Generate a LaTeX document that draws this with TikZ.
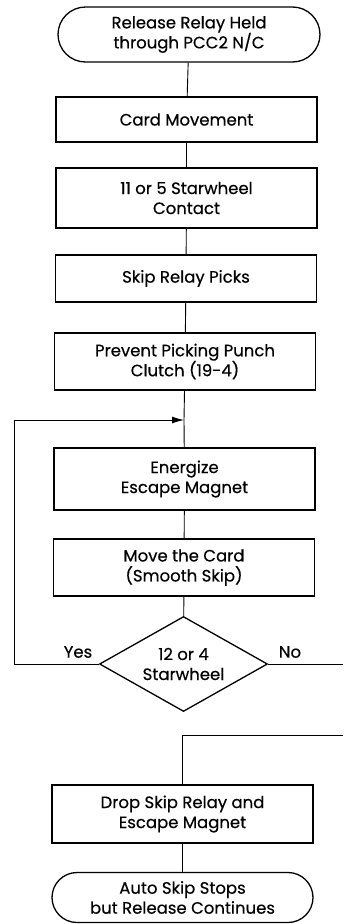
\documentclass[tikz,border=0pt]{standalone}
\usepackage{fontspec}
\setmainfont{Poppins}[UprightFeatures={FakeBold=0.4}]
\usetikzlibrary{shapes.misc,shapes.geometric,arrows.meta}
\begin{document}
\begin{tikzpicture}[x=1pt,y=-1pt,
  every node/.style={font=\fontsize{16.5}{20}\selectfont},
  procbox/.style={draw,line width=1.3pt,rectangle,minimum width=261pt,align=center,inner sep=0pt},
  termbox/.style={draw,line width=1.3pt,rounded rectangle,minimum width=262pt,align=center,inner sep=0pt},
  decbox/.style={draw,line width=1.3pt,diamond,minimum width=168pt,minimum height=95pt,align=center,inner sep=0pt,aspect=1.77},
  conn/.style={line width=0.9pt},
  lbl/.style={inner sep=0pt}]
\useasboundingbox (0,0) rectangle (343,924);
\node[termbox,minimum height=55pt] (start) at (189,34.5) {Release Relay Held\\through PCC2 N/C};
\node[procbox,minimum height=45pt] (b1) at (186.5,119.5) {Card Movement};
\node[procbox,minimum height=60pt] (b2) at (186.5,198) {11 or 5 Starwheel\\Contact};
\node[procbox,minimum height=47pt] (b3) at (186,278.5) {Skip Relay Picks};
\node[procbox,minimum height=57pt] (b4) at (185,361.5) {Prevent Picking Punch\\Clutch (19-4)};
\coordinate (m) at (184,420);
\node[procbox,minimum height=62pt] (b5) at (184.5,479) {Energize\\Escape Magnet};
\node[procbox,minimum height=57pt] (b6) at (184,567.5) {Move the Card\\(Smooth Skip)};
\node[decbox] (d) at (183.5,664) {12 or 4\\Starwheel};
\coordinate (yl) at (14,664);
\coordinate (yt) at (14,420);
\coordinate (ne) at (343,664);
\coordinate (re) at (343,735);
\coordinate (rt) at (182.5,735);
\node[procbox,minimum height=58pt] (b7) at (182.5,814) {Drop Skip Relay and\\Escape Magnet};
\node[termbox,minimum width=261pt,minimum height=50pt] (end) at (182.5,897.5) {Auto Skip Stops\\but Release Continues};
\node[lbl] (yes) at (78,652) {Yes};
\node[lbl] (no) at (290,652) {No};
\draw[conn] (start) -- (b1);
\draw[conn] (b1) -- (b2);
\draw[conn] (b2) -- (b3);
\draw[conn] (b3) -- (b4);
\draw[conn] (b4) -- (m) -- (b5);
\draw[conn] (b5) -- (b6);
\draw[conn] (b6) -- (d);
\draw[conn,-{Latex[length=12pt,width=7pt]}] (d.west) -- (yl) -- (yt) -- (m);
\draw[conn] (d.east) -- (ne);
\draw[conn] (re) -- (rt) -- (b7);
\draw[conn] (b7) -- (end);
\end{tikzpicture}
\end{document}
